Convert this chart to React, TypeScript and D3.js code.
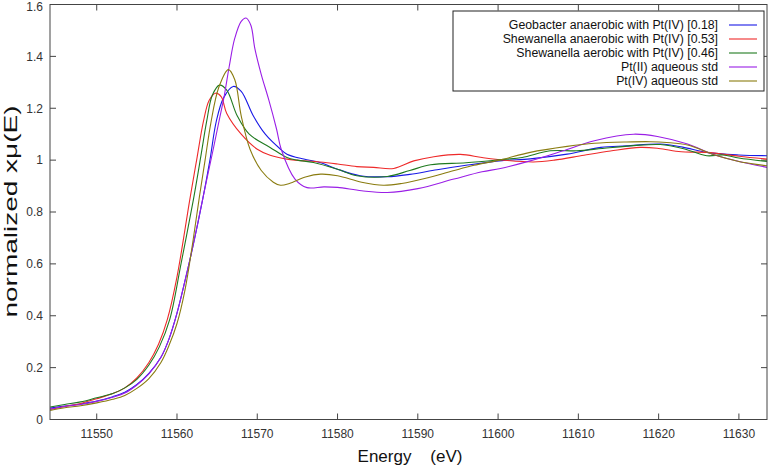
import React from "react";
import * as d3 from "d3";

const seriesNames = [
  "Geobacter anaerobic with Pt(IV) [0.18]",
  "Shewanella anaerobic with Pt(IV) [0.53]",
  "Shewanella aerobic with Pt(IV) [0.46]",
  "Pt(II) aqueous std",
  "Pt(IV) aqueous std",
];
const seriesColors = ["#1a1ae6", "#ee2a2a", "#1f7a1f", "#9a1ee6", "#8a7c10"];

const geobacter: [number, number][] = [
  [11544.2, 0.044], [11546, 0.052], [11548, 0.06], [11550, 0.071], [11552, 0.088],
  [11553.5, 0.105], [11555, 0.135], [11556.5, 0.178], [11558, 0.24], [11559, 0.31],
  [11560, 0.41], [11561, 0.535], [11562, 0.67], [11563.2, 0.849], [11564.1, 1.0],
  [11564.9, 1.15], [11565.8, 1.24], [11567.0, 1.284], [11568, 1.265], [11569.5, 1.171],
  [11571, 1.1], [11572.9, 1.042], [11573.7, 1.023], [11575.8, 1.004], [11577.8, 0.991],
  [11580, 0.965], [11582.8, 0.94], [11586.2, 0.936], [11589, 0.945], [11592.4, 0.963],
  [11596, 0.98], [11600.5, 0.998], [11604, 1.005], [11608.6, 1.023], [11612.8, 1.049],
  [11616, 1.055], [11620.2, 1.062], [11623, 1.05], [11626, 1.03], [11630, 1.02], [11633.5, 1.017],
];
const shewAnaerobic: [number, number][] = [
  [11544.2, 0.039], [11546, 0.05], [11548, 0.062], [11550, 0.08], [11552, 0.1],
  [11553.5, 0.122], [11555, 0.16], [11556.5, 0.22], [11557.7, 0.29], [11558.8, 0.386],
  [11560, 0.55], [11561.6, 0.849], [11562.5, 1.01], [11563.3, 1.15], [11564, 1.23],
  [11564.8, 1.258], [11565.5, 1.245], [11566.2, 1.18], [11568, 1.1], [11570, 1.042],
  [11571.6, 1.019], [11573.7, 1.004], [11577.8, 0.993], [11580, 0.985], [11582.4, 0.975],
  [11584.5, 0.972], [11587, 0.968], [11589.5, 0.997], [11592, 1.013], [11595.3, 1.022],
  [11598, 1.01], [11600.7, 1.0], [11604.4, 0.993], [11607, 1.0], [11610.7, 1.019],
  [11614, 1.035], [11617.7, 1.049], [11620, 1.045], [11622.8, 1.032], [11626, 1.03],
  [11630, 1.015], [11633.5, 1.004],
];
const shewAerobic: [number, number][] = [
  [11544.2, 0.048], [11546, 0.058], [11548, 0.068], [11550, 0.084], [11552, 0.1],
  [11553.5, 0.122], [11555, 0.155], [11556.5, 0.21], [11557.8, 0.28], [11559.1, 0.386],
  [11560.5, 0.6], [11562.05, 0.849], [11563, 1.02], [11563.7, 1.15], [11564.4, 1.25],
  [11565.3, 1.289], [11566.2, 1.27], [11567.5, 1.171], [11569, 1.1], [11571.6, 1.049],
  [11573.7, 1.01], [11575, 1.0], [11577, 0.991], [11580, 0.965], [11582.4, 0.94],
  [11586.2, 0.937], [11589, 0.96], [11591.6, 0.982], [11596, 0.99], [11600.7, 1.003],
  [11603, 1.01], [11606.5, 1.036], [11609.8, 1.036], [11613, 1.045], [11616.9, 1.056],
  [11620.2, 1.06], [11623, 1.045], [11626, 1.017], [11628, 1.02], [11630, 1.008], [11633.5, 0.995],
];
const pt2Std: [number, number][] = [
  [11544.2, 0.04], [11546, 0.05], [11548, 0.058], [11550, 0.07], [11552, 0.086],
  [11553.5, 0.102], [11555, 0.133], [11556.5, 0.176], [11558, 0.24], [11559, 0.31],
  [11560, 0.41], [11561, 0.535], [11562, 0.67], [11563.2, 0.85], [11564.5, 1.04],
  [11565.3, 1.16], [11565.9, 1.25], [11566.5, 1.36], [11567.2, 1.47], [11568.0, 1.535],
  [11568.6, 1.548], [11569.2, 1.52], [11569.7, 1.43], [11570.5, 1.33], [11571.4, 1.236],
  [11572.4, 1.12], [11573.0, 1.04], [11574.7, 0.927], [11576.2, 0.894], [11578.3, 0.897],
  [11580, 0.895], [11583, 0.882], [11586.2, 0.875], [11590, 0.89], [11594.5, 0.927],
  [11598, 0.955], [11600.3, 0.968], [11604, 0.997], [11608, 1.035], [11612, 1.075],
  [11616.9, 1.1], [11620, 1.09], [11623.6, 1.062], [11627, 1.02], [11630, 0.995], [11633.5, 0.972],
];
const pt4Std: [number, number][] = [
  [11544.2, 0.035], [11546, 0.045], [11548, 0.053], [11550, 0.064], [11552, 0.078],
  [11553.5, 0.093], [11555, 0.12], [11556.5, 0.158], [11558, 0.22], [11559, 0.285],
  [11560, 0.37], [11561, 0.5], [11562, 0.69], [11562.8, 0.86], [11563.5, 1.0],
  [11564.2, 1.14], [11565.2, 1.28], [11566.4, 1.349], [11567.2, 1.31], [11568, 1.171],
  [11569.1, 1.042], [11570.5, 0.96], [11572.0, 0.915], [11572.9, 0.903], [11574, 0.91],
  [11576, 0.935], [11577.9, 0.946], [11580, 0.94], [11583, 0.915], [11585.7, 0.903],
  [11588, 0.91], [11591, 0.93], [11594.4, 0.959], [11597, 0.98], [11600.3, 1.001],
  [11604, 1.03], [11608.6, 1.053], [11612, 1.065], [11616, 1.07], [11619, 1.071],
  [11621, 1.068], [11623.6, 1.058], [11627, 1.02], [11630, 0.995], [11633.5, 0.978],
];
const seriesData = [geobacter, shewAnaerobic, shewAerobic, pt2Std, pt4Std];

const xTicks = [11550, 11560, 11570, 11580, 11590, 11600, 11610, 11620, 11630];
const yTicks = [0, 0.2, 0.4, 0.6, 0.8, 1, 1.2, 1.4, 1.6];

const W = 772;
const H = 467;
const L = 50;
const R = 767;
const T = 4.5;
const B = 419.5;
const FONT = "'Liberation Sans', Arial, Helvetica, sans-serif";
const AXIS = "#444";

export default function App() {
  const x = d3.scaleLinear().domain([11544.18, 11633.5]).range([L, R]);
  const y = d3.scaleLinear().domain([0, 1.6]).range([B, T]);
  const line = d3
    .line<[number, number]>()
    .x((d) => x(d[0]))
    .y((d) => y(d[1]))
    .curve(d3.curveCatmullRom.alpha(0.5));

  const legX = 453;
  const legY = 11;
  const legW = 311;
  const legH = 80;

  return (
    <svg width={W} height={H} style={{ position: "absolute", left: 0, top: 0, background: "#fff" }}>
      <defs>
        <clipPath id="plotclip">
          <rect x={L} y={T} width={R - L} height={B - T} />
        </clipPath>
      </defs>
      <rect x={0} y={0} width={W} height={H} fill="#fff" />
      {xTicks.map((t) => (
        <g key={"xt" + t}>
          <line x1={x(t)} x2={x(t)} y1={B} y2={B - 6} stroke={AXIS} strokeWidth={1} />
          <line x1={x(t)} x2={x(t)} y1={T} y2={T + 6} stroke={AXIS} strokeWidth={1} />
          <text x={x(t)} y={438} textAnchor="middle" fontFamily={FONT} fontSize={12} fill="#333">
            {t}
          </text>
        </g>
      ))}
      {yTicks.map((t) => (
        <g key={"yt" + t}>
          <line x1={L} x2={L + 6} y1={y(t)} y2={y(t)} stroke={AXIS} strokeWidth={1} />
          <line x1={R} x2={R - 6} y1={y(t)} y2={y(t)} stroke={AXIS} strokeWidth={1} />
          <text
            x={43}
            y={Math.max(y(t) + 4.3, 11)}
            textAnchor="end"
            fontFamily={FONT}
            fontSize={12}
            fill="#333"
          >
            {String(t)}
          </text>
        </g>
      ))}
      <g clipPath="url(#plotclip)">
        {seriesData.map((d, i) => (
          <path key={i} d={line(d) || ""} fill="none" stroke={seriesColors[i]} strokeWidth={1.1} />
        ))}
      </g>
      <rect x={L} y={T} width={R - L} height={B - T} fill="none" stroke={AXIS} strokeWidth={1} />
      <rect x={legX} y={legY} width={legW} height={legH} fill="#fff" stroke="#222" strokeWidth={1} />
      {seriesNames.map((n, i) => (
        <g key={n}>
          <text
            x={718}
            y={legY + 14 + i * 14 + 4.4}
            textAnchor="end"
            fontFamily={FONT}
            fontSize={12.3}
            fill="#111"
          >
            {n}
          </text>
          <line
            x1={729}
            x2={757}
            y1={legY + 14 + i * 14}
            y2={legY + 14 + i * 14}
            stroke={seriesColors[i]}
            strokeWidth={1.1}
          />
        </g>
      ))}
      <text x={410} y={462} textAnchor="middle" fontFamily={FONT} fontSize={17} fill="#111" style={{ whiteSpace: "pre" }}>
        {"Energy    (eV)"}
      </text>
      <text
        transform={`translate(16.5,211.5) rotate(-90)`}
        textAnchor="middle"
        fontFamily={FONT}
        fontSize={18}
        textLength={212}
        lengthAdjust="spacingAndGlyphs"
        fill="#111"
      >
        normalized xμ(E)
      </text>
    </svg>
  );
}
